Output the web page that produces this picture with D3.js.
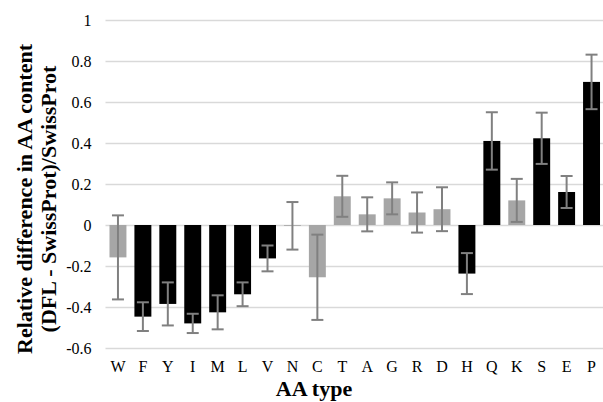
<!DOCTYPE html>
<html>
<head>
<meta charset="utf-8">
<script src="https://cdn.jsdelivr.net/npm/d3@7"></script>
<style>
  body { margin: 0; background: #fff; }
  text { font-family: "Liberation Serif", "Times New Roman", serif; }
</style>
</head>
<body>
<figure id="aa-chart" style="margin:0"></figure>
<script>
// AA types along the x axis
const categories = ['W', 'F', 'Y', 'I', 'M', 'L', 'V', 'N', 'C', 'T', 'A', 'G', 'R', 'D', 'H', 'Q', 'K', 'S', 'E', 'P'];
// relative difference (DFL - SwissProt)/SwissProt
const values = [-0.158, -0.447, -0.385, -0.48, -0.426, -0.338, -0.163, -0.004, -0.255, 0.14, 0.052, 0.13, 0.061, 0.077, -0.237, 0.41, 0.12, 0.423, 0.161, 0.698];
// error bar half-widths
const errors = [0.205, 0.07, 0.105, 0.047, 0.083, 0.058, 0.063, 0.116, 0.208, 0.1, 0.083, 0.078, 0.098, 0.107, 0.1, 0.14, 0.105, 0.125, 0.078, 0.133];
// true = significant (black), false = not significant (grey)
const significant = [false, true, true, true, true, true, true, false, false, false, false, false, false, false, true, true, false, true, true, true];
const yTicks = [-0.6, -0.4, -0.2, 0, 0.2, 0.4, 0.6, 0.8, 1];

const width = 603;
const height = 402;
const plot = { left: 105.5, right: 604, top: 20, bottom: 348 };
const serif = '"Liberation Serif", "Times New Roman", serif';

const svg = d3.select('figure#aa-chart')
  .append('svg')
  .attr('width', width)
  .attr('height', height);

const xScale = d3.scaleBand()
  .domain(categories)
  .range([plot.left, plot.right])
  .paddingInner(0.32)
  .paddingOuter(0.16);

const yScale = d3.scaleLinear()
  .domain([-0.6, 1])
  .range([plot.bottom, plot.top]);

// gridlines + y labels (plain hyphen for negatives, like the original)
svg.append('g')
  .attr('class', 'y-axis')
  .attr('transform', 'translate(' + plot.left + ',0)')
  .call(d3.axisLeft(yScale).tickValues(yTicks).tickFormat(d => String(+d.toFixed(1))).tickSize(0).tickPadding(14))
  .attr('font-family', serif)
  .attr('font-size', 16)
  .call(g => g.select('.domain').remove())
  .call(g => g.selectAll('.tick line')
    .attr('x1', 0)
    .attr('x2', plot.right - plot.left)
    .attr('stroke', '#d9d9d9')
    .attr('stroke-width', 1.5))
  .call(g => g.selectAll('.tick text').attr('fill', '#000'));

const data = categories.map((c, i) => ({ name: c, value: values[i], err: errors[i], sig: significant[i] }));

// bars
svg.append('g')
  .selectAll('rect')
  .data(data)
  .join('rect')
  .attr('x', d => xScale(d.name))
  .attr('width', xScale.bandwidth())
  .attr('y', d => yScale(Math.max(0, d.value)))
  .attr('height', d => Math.abs(yScale(d.value) - yScale(0)))
  .attr('fill', d => d.sig ? '#000' : '#a6a6a6');

// error bars
const capHalf = 6;
const errGroup = svg.append('g')
  .attr('stroke', '#808080')
  .attr('stroke-width', 2)
  .attr('fill', 'none');

const cx = d => xScale(d.name) + xScale.bandwidth() / 2;

errGroup.selectAll('.err-line')
  .data(data)
  .join('line')
  .attr('class', 'err-line')
  .attr('x1', cx)
  .attr('x2', cx)
  .attr('y1', d => yScale(d.value + d.err))
  .attr('y2', d => yScale(d.value - d.err));

errGroup.selectAll('.cap-top')
  .data(data)
  .join('line')
  .attr('class', 'cap-top')
  .attr('x1', d => cx(d) - capHalf)
  .attr('x2', d => cx(d) + capHalf)
  .attr('y1', d => yScale(d.value + d.err))
  .attr('y2', d => yScale(d.value + d.err));

errGroup.selectAll('.cap-bottom')
  .data(data)
  .join('line')
  .attr('class', 'cap-bottom')
  .attr('x1', d => cx(d) - capHalf)
  .attr('x2', d => cx(d) + capHalf)
  .attr('y1', d => yScale(d.value - d.err))
  .attr('y2', d => yScale(d.value - d.err));

// x labels
svg.append('g')
  .attr('class', 'x-axis')
  .attr('transform', 'translate(0,' + plot.bottom + ')')
  .call(d3.axisBottom(xScale).tickSize(0).tickPadding(13))
  .attr('font-family', serif)
  .attr('font-size', 16)
  .call(g => g.select('.domain').remove())
  .call(g => g.selectAll('.tick text').attr('fill', '#000'));

// x-axis title
svg.append('text')
  .attr('x', 314)
  .attr('y', 396)
  .attr('text-anchor', 'middle')
  .style('font-size', '22px')
  .style('font-weight', 'bold')
  .text('AA type');

// y-axis title (two lines)
const yTitle = svg.append('text')
  .attr('transform', 'translate(32,199) rotate(-90)')
  .attr('text-anchor', 'middle')
  .style('font-size', '22px')
  .style('font-weight', 'bold');
yTitle.append('tspan').attr('x', 0).attr('y', 0).text('Relative difference in AA content');
yTitle.append('tspan').attr('x', 0).attr('y', 24).text('(DFL - SwissProt)/SwissProt');
</script>
</body>
</html>
